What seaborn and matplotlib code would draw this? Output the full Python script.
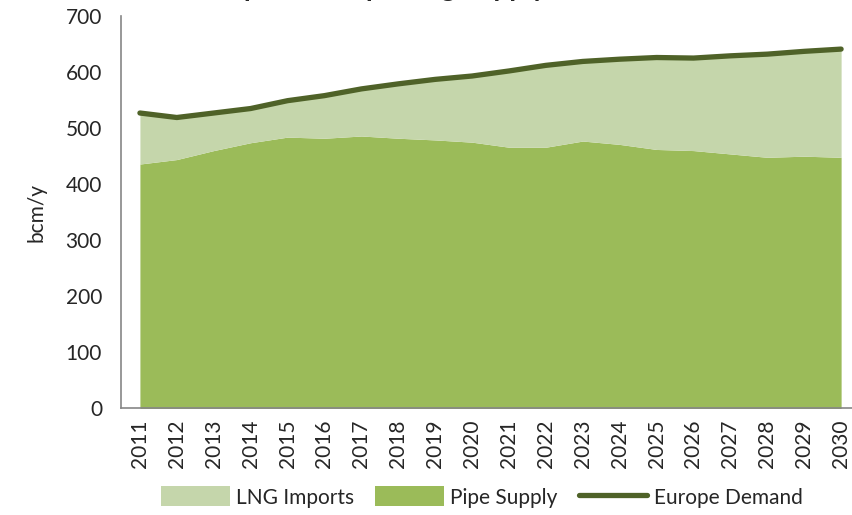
import matplotlib
matplotlib.use("Agg")
import matplotlib.pyplot as plt
import seaborn as sns
import numpy as np
import pandas as pd
from matplotlib.patches import Patch
from matplotlib.lines import Line2D
from matplotlib.ticker import FixedLocator, NullFormatter

# data (bcm/y)
years = [str(y) for y in range(2011, 2031)]
europe_demand = [527, 519, 527, 535, 549, 558, 570, 579, 587, 593,
                 602, 612, 619, 623, 626, 625, 629, 632, 637, 641]
pipe_supply = [436, 444, 460, 474, 484, 482, 486, 482, 479, 475,
               466, 466, 477, 471, 462, 460, 454, 448, 450, 448]
lng_imports = [d - p for d, p in zip(europe_demand, pipe_supply)]
y_ticks = [0, 100, 200, 300, 400, 500, 600, 700]

c_lng = "#c5d6ab"
c_pipe = "#9bbb59"
c_demand = "#4f6228"
c_axis = "#868686"

sns.set_style("white")
plt.rcParams["font.family"] = ["Lato", "DejaVu Sans"]

df = pd.DataFrame({"year": years, "pos": np.arange(len(years)),
                   "demand": europe_demand, "pipe": pipe_supply, "lng": lng_imports})

fig = plt.figure(figsize=(8.53, 5.15), dpi=100)
ax = fig.add_axes([0.1424, 0.2068, 0.8653, 0.7621])

ax.stackplot(df["pos"], df["pipe"], df["lng"], colors=[c_pipe, c_lng], linewidth=0)
sns.lineplot(data=df, x="pos", y="demand", ax=ax, color=c_demand, linewidth=3.8,
             solid_capstyle="round", legend=False)

ax.set_xlim(-0.5, len(years) - 0.5)
ax.set_ylim(0, 700)
ax.set_yticks(y_ticks)
ax.set_xticks(df["pos"])
ax.set_xticklabels(years, rotation=90, fontsize=15)
ax.xaxis.set_minor_locator(FixedLocator(np.arange(len(years) + 1) - 0.5))
ax.xaxis.set_minor_formatter(NullFormatter())
ax.tick_params(axis="x", which="major", length=0, pad=8)
ax.tick_params(axis="x", which="minor", length=6, width=1.2, color=c_axis, direction="out")
ax.tick_params(axis="y", length=6, width=1.2, color=c_axis, direction="out", labelsize=15, pad=8)
ax.set_xlabel("")
ax.set_ylabel("bcm/y", fontsize=15, labelpad=14)

for side in ["top", "right"]:
    ax.spines[side].set_visible(False)
for side in ["left", "bottom"]:
    ax.spines[side].set_color(c_axis)
    ax.spines[side].set_linewidth(1.2)

handles = [Patch(facecolor=c_lng, edgecolor="none", label="LNG Imports"),
           Patch(facecolor=c_pipe, edgecolor="none", label="Pipe Supply"),
           Line2D([0], [0], color=c_demand, linewidth=3.8, label="Europe Demand")]
fig.legend(handles=handles, loc="center", bbox_to_anchor=(0.565, 0.035), ncol=3,
           frameon=False, fontsize=15, handlelength=3.3, handleheight=1.1,
           columnspacing=1.0, handletextpad=0.3)

# title sits almost entirely above the image edge, as in the source
fig.text(0.43, 1.008, "Europe Gas Importing Supply", ha="center", va="baseline",
         fontsize=20, fontweight="bold")

fig.savefig("out.png", dpi=100)
